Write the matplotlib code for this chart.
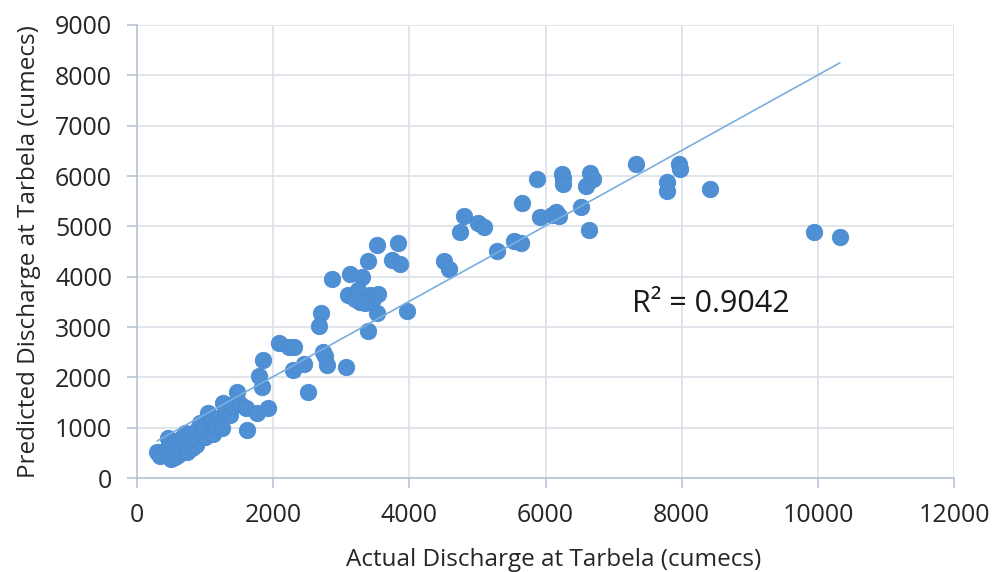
import matplotlib.pyplot as plt
import numpy as np

plt.rcParams['font.family'] = ['Open Sans', 'DejaVu Sans']

# actual discharge (cumecs)
actual = [
    # dense low-flow cluster
    300, 340, 380, 420, 450, 470, 500, 520, 540, 560, 580, 600, 620, 640, 650,
    680, 700, 720, 740, 760, 780, 800, 820, 850, 860, 880, 900, 920, 950, 980,
    1000, 1040, 1070, 1080, 1100, 1120, 1150, 1200, 1250, 1260, 1300, 1370,
    1400, 1470, 1510, 1600, 1610, 1760, 1920, 1830, 1790, 1850,
    # rising limb
    2090, 2230, 2300, 2290, 2450, 2730, 2760, 2790, 3070, 2510,
    2700, 2670, 2860, 3130, 3300, 3100, 3240, 3270, 3420, 3540, 3460, 3520,
    3960, 3390, 3200, 3350, 3520, 3830, 3390, 3740, 3860,
    # high flows
    4510, 4580, 4800, 4740, 5010, 5090, 5290, 5540, 5640,
    5650, 5920, 6100, 6150, 6200, 5870, 6240, 6250, 6250,
    6650, 6690, 6600, 6520, 6640,
    7330, 7780, 7780, 7960, 7970, 8410, 9940, 10320,
]

# predicted discharge (cumecs)
predicted = [
    520, 430, 480, 560, 800, 620, 380, 520, 680, 420, 600, 460, 760, 700, 560,
    820, 900, 660, 520, 780, 880, 600, 700, 820, 650, 960, 760, 1100, 880, 1000,
    820, 1300, 980, 1100, 1150, 870, 1060, 1200, 1000, 1500, 1320, 1250,
    1450, 1700, 1480, 1400, 950, 1290, 1400, 1810, 2020, 2340,
    2680, 2610, 2610, 2150, 2260, 2500, 2420, 2250, 2200, 1710,
    3270, 3020, 3950, 4060, 4000, 3630, 3740, 3500, 3640, 3650, 3560, 3280,
    3320, 2920, 3560, 3480, 4630, 4670, 4320, 4330, 4250,
    4310, 4160, 5210, 4890, 5070, 4990, 4510, 4710, 4670,
    5470, 5190, 5220, 5280, 5200, 5940, 6040, 5960, 5850,
    6060, 5940, 5800, 5390, 4930,
    6230, 5880, 5710, 6230, 6140, 5750, 4890, 4790,
]

x_ticks = [0, 2000, 4000, 6000, 8000, 10000, 12000]
y_ticks = [0, 1000, 2000, 3000, 4000, 5000, 6000, 7000, 8000, 9000]
r2_label = 'R² = 0.9042'

x = np.array(actual)
y = np.array(predicted)

fig = plt.figure(figsize=(9.96, 5.72), dpi=100)
ax = fig.add_axes([0.1376, 0.1643, 0.8203, 0.7920])

ax.set_axisbelow(True)
ax.grid(True, color='#DCE1EA', linewidth=1.2)

ax.scatter(x, y, s=140, color='#4F8FD4', edgecolors='#4A8AD0', linewidths=0.6, zorder=3)

# linear trendline over the data range
m, c = np.polyfit(x, y, 1)
xs = np.array([x.min(), x.max()])
ax.plot(xs, m * xs + c, color='#7AAEE0', linewidth=1.2, zorder=4)

ax.text(7270, 3300, r2_label, fontsize=22, color='#1a1a1a')

ax.set_xlim(0, 12000)
ax.set_ylim(0, 9000)
ax.set_xticks(x_ticks)
ax.set_yticks(y_ticks)

for side in ['top', 'right']:
    ax.spines[side].set_visible(False)
for side in ['left', 'bottom']:
    ax.spines[side].set_color('#B9C3D6')
    ax.spines[side].set_linewidth(1.2)

ax.tick_params(axis='both', length=7, width=1.2, color='#B9C3D6',
               labelsize=18, labelcolor='#262626', pad=11)

ax.set_xlabel('Actual Discharge at Tarbela (cumecs)', fontsize=17.5, color='#262626')
ax.set_ylabel('Predicted Discharge at Tarbela (cumecs)', fontsize=17.5, color='#262626')
ax.xaxis.set_label_coords(0.51, -0.155)
ax.yaxis.set_label_coords(-0.118, 0.5)

fig.savefig('out.png', dpi=100)
